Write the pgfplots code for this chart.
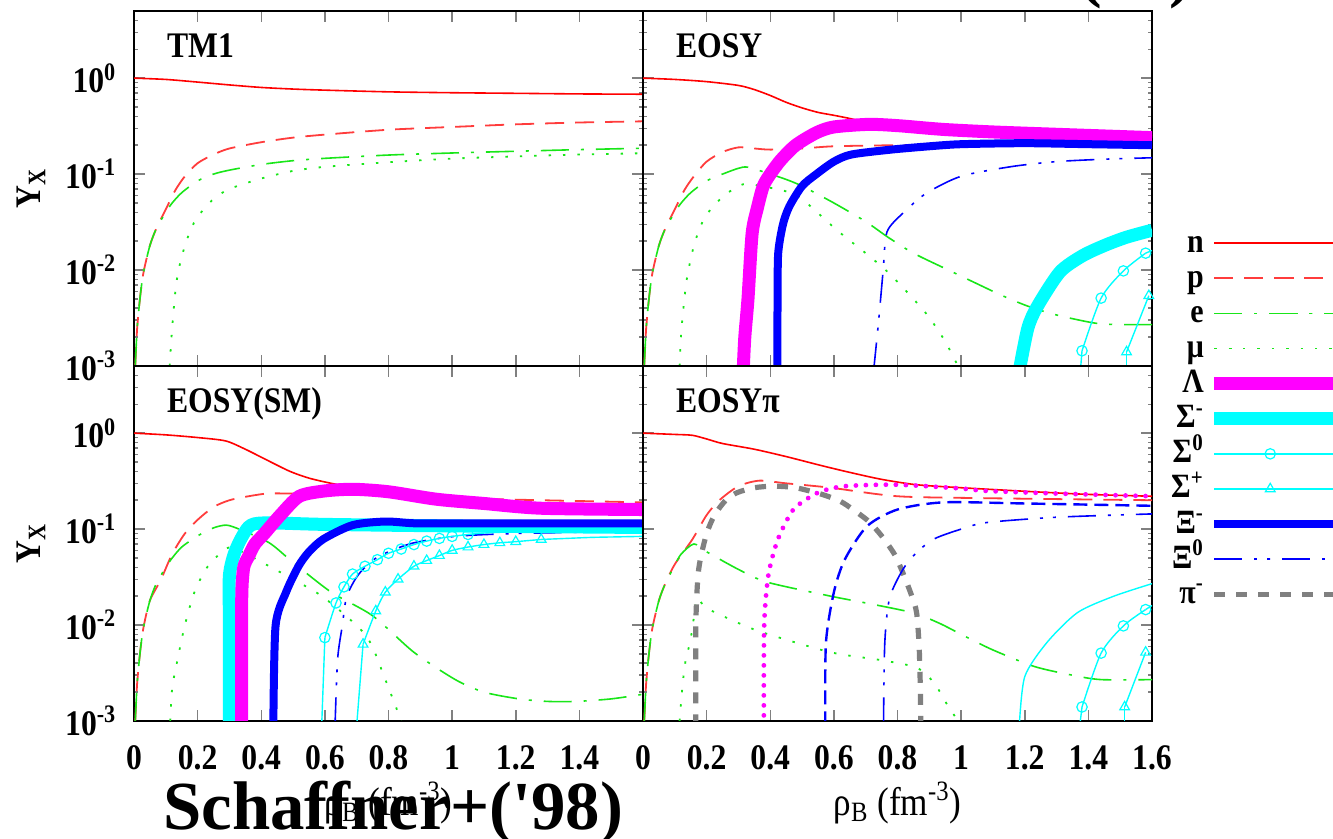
\documentclass[border=0pt]{standalone}
\usepackage{fontspec}
\setmainfont{Liberation Serif}
\newfontfamily\lab{Liberation Serif}[FakeStretch=0.88]
\usepackage{pgfplots}
\pgfplotsset{compat=1.18}

\definecolor{colN}{RGB}{255,0,0}
\definecolor{colP}{RGB}{255,60,60}
\definecolor{colG}{RGB}{25,230,25}
\definecolor{colMag}{RGB}{255,0,255}
\definecolor{colCy}{RGB}{0,255,255}
\definecolor{colBl}{RGB}{0,0,255}
\definecolor{colGr}{RGB}{128,128,128}

% line styles of the particle species
\tikzset{
  neutronS/.style={color=colN, line width=0.8pt, solid, smooth, tension=0.45},
  protonS/.style={color=colP, line width=0.9pt, dash pattern=on 9.5pt off 5.5pt, smooth, tension=0.45},
  elecS/.style={color=colG, line width=0.8pt, dash pattern=on 14pt off 6pt on 1.5pt off 6pt, smooth, tension=0.45},
  muonS/.style={color=colG, line width=0.9pt, dash pattern=on 1.2pt off 6pt, smooth, tension=0.45},
  lambdaS/.style={color=colMag, line width=6.5pt, line join=round, smooth, tension=0.45},
  lambdaDotS/.style={color=colMag, line width=2.4pt, line cap=round, dash pattern=on 0pt off 5pt, smooth, tension=0.45},
  sigmaMinusS/.style={color=colCy, line width=6.5pt, line join=round, smooth, tension=0.45},
  sigmaMinusThinS/.style={color=colCy, line width=0.7pt, smooth, tension=0.45},
  sigmaZeroS/.style={color=colCy, line width=0.7pt, mark=o, mark size=2.6pt, mark options={solid, line width=0.6pt}, smooth, tension=0.45},
  sigmaPlusS/.style={color=colCy, line width=0.7pt, mark=triangle, mark size=2.8pt, mark options={solid, line width=0.6pt}, smooth, tension=0.45},
  xiMinusS/.style={color=colBl, line width=4pt, line join=round, smooth, tension=0.45},
  xiMinusDashS/.style={color=colBl, line width=1.2pt, dash pattern=on 7pt off 3.5pt, smooth, tension=0.45},
  xiZeroS/.style={color=colBl, line width=0.8pt, dash pattern=on 14pt off 6pt on 1.5pt off 5pt on 1.5pt off 6pt, smooth, tension=0.45},
  pionS/.style={color=colGr, line width=2.6pt, dash pattern=on 5.5pt off 5.5pt, smooth, tension=0.45},
  ptitle/.style={anchor=base west, font=\fontsize{18}{18}\lab\bfseries},
}

\newcommand{\rhoB}{ρ\textsubscript{B} (fm\textsuperscript{-3})}

\begin{document}
\begin{tikzpicture}
\useasboundingbox (0,0) rectangle (666.5pt,419.5pt);

% ---------------- TM1 ----------------
\begin{axis}[
    at={(67pt,236.5pt)}, anchor=south west,
    scale only axis, width=254.5pt, height=177.5pt,
    xmin=0, xmax=1.6, ymode=log, ymin=1e-3, ymax=5.0119,
    axis line style={line width=0.8pt},
    xtick={0,0.2,0.4,0.6,0.8,1.0,1.2,1.4,1.6},
    ytick={1e-3,1e-2,1e-1,1},
    minor ytick={2e-3,3e-3,4e-3,5e-3,6e-3,7e-3,8e-3,9e-3,2e-2,3e-2,4e-2,5e-2,6e-2,7e-2,8e-2,9e-2,0.2,0.3,0.4,0.5,0.6,0.7,0.8,0.9,2,3,4,5},
    tick align=inside, tick pos=both,
    major tick length=5.5pt, minor tick length=2.2pt,
    every tick/.append style={line width=0.75pt},
    tick label style={font=\fontsize{18}{18}\lab\bfseries},
    yticklabel style={xshift=-5.3pt},
    xticklabels={},
    yticklabels={10\textsuperscript{-3},10\textsuperscript{-2},10\textsuperscript{-1},10\textsuperscript{0}},
    ylabel={Y\textsubscript{X}},
    ylabel style={at={(axis description cs:-0.2024,0.5)}, anchor=center, font=\fontsize{18}{18}\lab\bfseries},
]
\addplot[neutronS] coordinates {(0,1.0) (0.1,0.97) (0.2,0.91) (0.3,0.85) (0.4,0.8) (0.5,0.77) (0.6,0.75) (0.8,0.72) (1.0,0.705) (1.2,0.695) (1.4,0.685) (1.6,0.68)};
\addplot[protonS] coordinates {(0.004,0.001) (0.01,0.0025) (0.02,0.0055) (0.03,0.0095) (0.05,0.018) (0.07,0.027) (0.1,0.043) (0.13,0.068) (0.16,0.095) (0.2,0.13) (0.25,0.16) (0.3,0.185) (0.4,0.215) (0.5,0.24) (0.6,0.258) (0.8,0.29) (1.0,0.31) (1.2,0.33) (1.4,0.345) (1.6,0.355)};
\addplot[elecS] coordinates {(0.004,0.001) (0.01,0.0025) (0.02,0.0055) (0.03,0.0095) (0.05,0.018) (0.07,0.027) (0.1,0.04) (0.12,0.05) (0.15,0.064) (0.2,0.085) (0.25,0.1) (0.3,0.11) (0.4,0.126) (0.5,0.138) (0.6,0.146) (0.8,0.158) (1.0,0.166) (1.2,0.173) (1.4,0.18) (1.6,0.186)};
\addplot[muonS] coordinates {(0.112,0.001) (0.12,0.0025) (0.13,0.006) (0.14,0.01) (0.16,0.018) (0.18,0.027) (0.2,0.036) (0.25,0.055) (0.3,0.07) (0.4,0.09) (0.5,0.108) (0.6,0.119) (0.8,0.133) (1.0,0.145) (1.2,0.153) (1.4,0.16) (1.6,0.165)};
\node[ptitle] at (rel axis cs:0.051,0.868) {TM1};
\end{axis}

% ---------------- EOSY ----------------
\begin{axis}[
    at={(321.5pt,236.5pt)}, anchor=south west,
    scale only axis, width=254.5pt, height=177.5pt,
    xmin=0, xmax=1.6, ymode=log, ymin=1e-3, ymax=5.0119,
    axis line style={line width=0.8pt},
    xtick={0,0.2,0.4,0.6,0.8,1.0,1.2,1.4,1.6},
    ytick={1e-3,1e-2,1e-1,1},
    minor ytick={2e-3,3e-3,4e-3,5e-3,6e-3,7e-3,8e-3,9e-3,2e-2,3e-2,4e-2,5e-2,6e-2,7e-2,8e-2,9e-2,0.2,0.3,0.4,0.5,0.6,0.7,0.8,0.9,2,3,4,5},
    tick align=inside, tick pos=both,
    major tick length=5.5pt, minor tick length=2.2pt,
    every tick/.append style={line width=0.75pt},
    xticklabels={}, yticklabels={},
    legend style={at={(axis description cs:1.037,0.392)}, anchor=north west, draw=none, fill=none,
    inner sep=0pt, font=\fontsize{17}{17}\lab\bfseries, row sep=1.55pt, column sep=2pt,
    nodes={inner sep=0pt, text height=12.5pt, text depth=3.5pt}},
    legend cell align=right, legend plot pos=right,
    legend image code/.code={\draw[mark repeat=2, mark phase=2, #1] plot coordinates {(0pt,0pt) (28pt,0pt) (75pt,0pt)};},
]
\addlegendimage{neutronS}
\addlegendimage{protonS}
\addlegendimage{elecS}
\addlegendimage{muonS}
\addlegendimage{lambdaS}
\addlegendimage{sigmaMinusS}
\addlegendimage{sigmaZeroS}
\addlegendimage{sigmaPlusS}
\addlegendimage{xiMinusS}
\addlegendimage{xiZeroS}
\addlegendimage{pionS}
\legend{n,p,e,μ,Λ,Σ\textsuperscript{-},Σ\textsuperscript{0},Σ\textsuperscript{+},Ξ\textsuperscript{-},Ξ\textsuperscript{0},π\textsuperscript{-}}
\addplot[neutronS] coordinates {(0,1.0) (0.1,0.97) (0.2,0.92) (0.3,0.84) (0.35,0.76) (0.4,0.66) (0.45,0.56) (0.5,0.49) (0.55,0.44) (0.6,0.41) (0.65,0.38) (0.7,0.35) (0.8,0.32) (1.0,0.29) (1.2,0.27) (1.4,0.26) (1.6,0.25)};
\addplot[protonS] coordinates {(0.004,0.001) (0.01,0.0025) (0.02,0.0055) (0.03,0.0095) (0.05,0.018) (0.07,0.027) (0.1,0.043) (0.13,0.068) (0.16,0.095) (0.2,0.135) (0.25,0.17) (0.3,0.19) (0.35,0.185) (0.4,0.18) (0.5,0.185) (0.6,0.195) (0.8,0.2) (1.0,0.2) (1.2,0.2) (1.4,0.195) (1.6,0.19)};
\addplot[elecS] coordinates {(0.004,0.001) (0.01,0.0025) (0.02,0.0055) (0.03,0.0095) (0.05,0.018) (0.07,0.027) (0.1,0.04) (0.12,0.05) (0.15,0.064) (0.2,0.085) (0.25,0.1) (0.3,0.115) (0.33,0.118) (0.4,0.1) (0.45,0.088) (0.5,0.075) (0.6,0.05) (0.7,0.032) (0.77,0.022) (0.85,0.015) (0.96,0.01) (1.05,0.0072) (1.13,0.0054) (1.21,0.0042) (1.3,0.0034) (1.42,0.0028) (1.5,0.0027) (1.6,0.0027)};
\addplot[muonS] coordinates {(0.115,0.001) (0.12,0.0022) (0.13,0.005) (0.14,0.009) (0.16,0.018) (0.18,0.028) (0.2,0.038) (0.25,0.058) (0.3,0.075) (0.33,0.079) (0.4,0.072) (0.45,0.066) (0.5,0.055) (0.61,0.026) (0.7,0.015) (0.77,0.0095) (0.85,0.005) (0.9,0.0032) (0.95,0.0018) (0.99,0.001)};
\addplot[xiZeroS] coordinates {(0.725,0.0009) (0.74,0.0028) (0.755,0.01) (0.767,0.025) (0.82,0.04) (0.89,0.063) (1.0,0.095) (1.16,0.12) (1.3,0.135) (1.45,0.143) (1.6,0.148)};
\addplot[sigmaZeroS, mark=none] coordinates {(1.375,0.0009) (1.38,0.00144)};
\addplot[sigmaZeroS] coordinates {(1.38,0.00144) (1.44,0.0051) (1.51,0.0098) (1.58,0.015)};
\addplot[sigmaZeroS, mark=none] coordinates {(1.58,0.015) (1.6,0.016)};
\addplot[sigmaPlusS, mark=none] coordinates {(1.52,0.0009) (1.52,0.0014)};
\addplot[sigmaPlusS] coordinates {(1.52,0.0014) (1.59,0.0054)};
\addplot[sigmaMinusS] coordinates {(1.183,0.0009) (1.21,0.0025) (1.24,0.0042) (1.31,0.0095) (1.38,0.014) (1.45,0.018) (1.52,0.022) (1.6,0.026)};
\addplot[lambdaS] coordinates {(0.315,0.0009) (0.32,0.002) (0.33,0.005) (0.343,0.024) (0.36,0.045) (0.378,0.075) (0.4,0.1) (0.433,0.14) (0.48,0.2) (0.545,0.27) (0.6,0.31) (0.71,0.33) (0.8,0.32) (0.9,0.3) (0.96,0.29) (1.1,0.275) (1.3,0.26) (1.6,0.24)};
\addplot[xiMinusS] coordinates {(0.422,0.0009) (0.423,0.005) (0.425,0.015) (0.44,0.03) (0.46,0.046) (0.5,0.075) (0.545,0.1) (0.6,0.135) (0.655,0.16) (0.78,0.18) (0.9,0.195) (1.0,0.205) (1.2,0.21) (1.4,0.205) (1.6,0.2)};
\node[ptitle] at (rel axis cs:0.051,0.868) {EOSY};
\end{axis}

% ---------------- EOSY(SM) ----------------
\begin{axis}[
    at={(67pt,59pt)}, anchor=south west,
    scale only axis, width=254.5pt, height=177.5pt,
    xmin=0, xmax=1.6, ymode=log, ymin=1e-3, ymax=5.0119,
    axis line style={line width=0.8pt},
    xtick={0,0.2,0.4,0.6,0.8,1.0,1.2,1.4,1.6},
    ytick={1e-3,1e-2,1e-1,1},
    minor ytick={2e-3,3e-3,4e-3,5e-3,6e-3,7e-3,8e-3,9e-3,2e-2,3e-2,4e-2,5e-2,6e-2,7e-2,8e-2,9e-2,0.2,0.3,0.4,0.5,0.6,0.7,0.8,0.9,2,3,4,5},
    tick align=inside, tick pos=both,
    major tick length=5.5pt, minor tick length=2.2pt,
    every tick/.append style={line width=0.75pt},
    tick label style={font=\fontsize{18}{18}\lab\bfseries},
    xticklabel style={yshift=-8.8pt},
    yticklabel style={xshift=-5.3pt},
    xticklabels={0,0.2,0.4,0.6,0.8,1,1.2,1.4,{}},
    yticklabels={10\textsuperscript{-3},10\textsuperscript{-2},10\textsuperscript{-1},10\textsuperscript{0}},
    ylabel={Y\textsubscript{X}},
    ylabel style={at={(axis description cs:-0.2024,0.5)}, anchor=center, font=\fontsize{18}{18}\lab\bfseries},
    xlabel={\rhoB},
    xlabel style={at={(axis description cs:0.5,-0.231)}, anchor=center, font=\fontsize{20}{20}\lab},
]
\addplot[neutronS] coordinates {(0,1.0) (0.1,0.96) (0.2,0.9) (0.288,0.83) (0.35,0.68) (0.42,0.52) (0.49,0.4) (0.55,0.34) (0.62,0.3) (0.7,0.27) (0.8,0.25) (1.0,0.21) (1.2,0.19) (1.4,0.18) (1.6,0.175)};
\addplot[protonS] coordinates {(0.004,0.001) (0.01,0.0025) (0.02,0.0055) (0.03,0.0095) (0.05,0.018) (0.085,0.03) (0.12,0.055) (0.16,0.09) (0.2,0.125) (0.25,0.17) (0.3,0.2) (0.36,0.22) (0.42,0.235) (0.49,0.235) (0.6,0.235) (0.8,0.225) (1.0,0.21) (1.6,0.19)};
\addplot[elecS] coordinates {(0.004,0.001) (0.01,0.0025) (0.02,0.0055) (0.03,0.0095) (0.05,0.018) (0.07,0.027) (0.1,0.04) (0.12,0.05) (0.15,0.065) (0.2,0.085) (0.25,0.103) (0.29,0.11) (0.33,0.1) (0.425,0.072) (0.5,0.045) (0.62,0.022) (0.75,0.0125) (0.88,0.0052) (1.01,0.0027) (1.1,0.002) (1.21,0.0017) (1.3,0.0016) (1.39,0.0016) (1.5,0.0017) (1.6,0.0019)};
\addplot[muonS] coordinates {(0.114,0.001) (0.12,0.0022) (0.137,0.0044) (0.16,0.01) (0.19,0.022) (0.23,0.04) (0.29,0.063) (0.33,0.06) (0.425,0.041) (0.5,0.03) (0.6,0.019) (0.73,0.0077) (0.79,0.0027) (0.84,0.001)};
\addplot[xiZeroS] coordinates {(0.632,0.0009) (0.64,0.0044) (0.655,0.01) (0.667,0.019) (0.69,0.028) (0.713,0.036) (0.753,0.048) (0.8,0.058) (0.88,0.072) (1.01,0.084) (1.2,0.09) (1.6,0.095)};
\addplot[sigmaZeroS, mark=none] coordinates {(0.59,0.0009) (0.6,0.0074)};
\addplot[sigmaZeroS] coordinates {(0.6,0.0074) (0.635,0.017) (0.66,0.025) (0.687,0.034) (0.726,0.041) (0.765,0.048) (0.8,0.056) (0.84,0.062) (0.88,0.069) (0.92,0.075) (0.96,0.08) (1.0,0.084) (1.05,0.088)};
\addplot[sigmaZeroS, mark=none] coordinates {(1.05,0.088) (1.1,0.091) (1.2,0.094) (1.3,0.096) (1.4,0.097) (1.5,0.098) (1.6,0.098)};
\addplot[sigmaPlusS, mark=none] coordinates {(0.70,0.0009) (0.72,0.0063)};
\addplot[sigmaPlusS] coordinates {(0.72,0.0063) (0.76,0.014) (0.79,0.022) (0.83,0.03) (0.88,0.041) (0.92,0.047) (0.96,0.053) (1.0,0.06) (1.05,0.065) (1.1,0.069) (1.15,0.072) (1.2,0.074) (1.28,0.078)};
\addplot[sigmaPlusS, mark=none] coordinates {(1.28,0.078) (1.36,0.08) (1.44,0.082) (1.52,0.083) (1.6,0.084)};
\addplot[sigmaMinusS] coordinates {(0.3,0.0009) (0.3,0.01) (0.3,0.033) (0.32,0.061) (0.36,0.105) (0.41,0.116) (0.6,0.112) (1.0,0.108) (1.6,0.104)};
\addplot[lambdaS] coordinates {(0.338,0.0009) (0.338,0.005) (0.339,0.022) (0.345,0.04) (0.36,0.052) (0.38,0.07) (0.41,0.09) (0.46,0.14) (0.52,0.22) (0.6,0.25) (0.69,0.26) (0.8,0.245) (0.95,0.205) (1.1,0.185) (1.28,0.165) (1.6,0.16)};
\addplot[xiMinusS] coordinates {(0.438,0.0009) (0.445,0.0098) (0.478,0.022) (0.517,0.041) (0.55,0.058) (0.596,0.079) (0.687,0.11) (0.79,0.12) (0.88,0.115) (1.0,0.115) (1.6,0.115)};
\node[ptitle] at (rel axis cs:0.051,0.868) {EOSY(SM)};
\end{axis}

% ---------------- EOSY pi ----------------
\begin{axis}[
    at={(321.5pt,59pt)}, anchor=south west,
    scale only axis, width=254.5pt, height=177.5pt,
    xmin=0, xmax=1.6, ymode=log, ymin=1e-3, ymax=5.0119,
    axis line style={line width=0.8pt},
    xtick={0,0.2,0.4,0.6,0.8,1.0,1.2,1.4,1.6},
    ytick={1e-3,1e-2,1e-1,1},
    minor ytick={2e-3,3e-3,4e-3,5e-3,6e-3,7e-3,8e-3,9e-3,2e-2,3e-2,4e-2,5e-2,6e-2,7e-2,8e-2,9e-2,0.2,0.3,0.4,0.5,0.6,0.7,0.8,0.9,2,3,4,5},
    tick align=inside, tick pos=both,
    major tick length=5.5pt, minor tick length=2.2pt,
    every tick/.append style={line width=0.75pt},
    tick label style={font=\fontsize{18}{18}\lab\bfseries},
    xticklabel style={yshift=-8.8pt},
    xticklabels={0,0.2,0.4,0.6,0.8,1,1.2,1.4,1.6},
    yticklabels={},
    xlabel={\rhoB},
    xlabel style={at={(axis description cs:0.5,-0.231)}, anchor=center, font=\fontsize{20}{20}\lab},
]
\addplot[neutronS] coordinates {(0,1.0) (0.1,0.97) (0.155,0.95) (0.2,0.87) (0.25,0.78) (0.35,0.68) (0.45,0.57) (0.56,0.46) (0.65,0.39) (0.75,0.33) (0.86,0.29) (1.0,0.27) (1.23,0.245) (1.4,0.23) (1.6,0.22)};
\addplot[protonS] coordinates {(0.004,0.001) (0.01,0.0025) (0.02,0.0055) (0.03,0.0095) (0.05,0.018) (0.07,0.027) (0.1,0.043) (0.155,0.078) (0.2,0.14) (0.24,0.2) (0.3,0.28) (0.366,0.32) (0.45,0.3) (0.59,0.27) (0.8,0.22) (1.08,0.21) (1.6,0.2)};
\addplot[elecS] coordinates {(0.004,0.001) (0.01,0.0025) (0.02,0.0055) (0.03,0.0095) (0.05,0.018) (0.07,0.027) (0.1,0.042) (0.12,0.055) (0.16,0.07) (0.2,0.058) (0.3,0.038) (0.39,0.028) (0.59,0.02) (0.7,0.017) (0.845,0.0135) (0.93,0.0105) (1.01,0.0077) (1.1,0.0055) (1.23,0.0037) (1.35,0.003) (1.44,0.0027) (1.6,0.0027)};
\addplot[muonS] coordinates {(0.115,0.001) (0.125,0.0025) (0.135,0.0045) (0.148,0.0066) (0.16,0.012) (0.17,0.019) (0.2,0.015) (0.3,0.0105) (0.38,0.0083) (0.59,0.0052) (0.75,0.0043) (0.86,0.0036) (0.915,0.0025) (0.95,0.0016) (0.99,0.001)};
\addplot[pionS] coordinates {(0.166,0.0009) (0.166,0.0098) (0.172,0.03) (0.18,0.048) (0.2,0.09) (0.225,0.14) (0.26,0.2) (0.296,0.24) (0.35,0.27) (0.41,0.28) (0.48,0.27) (0.563,0.23) (0.62,0.195) (0.66,0.16) (0.71,0.12) (0.75,0.085) (0.79,0.055) (0.817,0.035) (0.845,0.02) (0.86,0.0135) (0.868,0.006) (0.872,0.002) (0.873,0.0009)};
\addplot[lambdaDotS] coordinates {(0.38,0.0009) (0.381,0.01) (0.394,0.033) (0.42,0.072) (0.45,0.12) (0.48,0.17) (0.55,0.24) (0.634,0.28) (0.8,0.29) (1.0,0.265) (1.08,0.25) (1.3,0.235) (1.6,0.22)};
\addplot[xiMinusDashS] coordinates {(0.573,0.0009) (0.575,0.0065) (0.6,0.022) (0.634,0.048) (0.704,0.107) (0.8,0.16) (0.944,0.19) (1.2,0.185) (1.6,0.175)};
\addplot[xiZeroS] coordinates {(0.756,0.0009) (0.76,0.0065) (0.775,0.019) (0.817,0.038) (0.86,0.057) (0.915,0.079) (1.0,0.1) (1.08,0.117) (1.3,0.133) (1.6,0.144)};
\addplot[sigmaMinusThinS] coordinates {(1.183,0.0009) (1.2,0.0029) (1.27,0.0066) (1.366,0.0135) (1.48,0.02) (1.6,0.027)};
\addplot[sigmaZeroS, mark=none] coordinates {(1.373,0.0009) (1.38,0.0014)};
\addplot[sigmaZeroS] coordinates {(1.38,0.0014) (1.44,0.0051) (1.51,0.0098) (1.58,0.0145)};
\addplot[sigmaZeroS, mark=none] coordinates {(1.58,0.0145) (1.6,0.016)};
\addplot[sigmaPlusS, mark=none] coordinates {(1.514,0.0009) (1.514,0.0014)};
\addplot[sigmaPlusS] coordinates {(1.514,0.0014) (1.58,0.0052)};
\node[ptitle] at (rel axis cs:0.051,0.868) {EOSYπ};
\end{axis}

% slide captions
\node[anchor=base west, font=\fontsize{34.4}{34.4}\selectfont\bfseries, inner sep=0pt] at (81.5pt,4.5pt) {Schaffner+(\textquotesingle 98)};
\node[anchor=base east, font=\fontsize{34}{34}\selectfont\bfseries, inner sep=0pt] at (596.5pt,422pt) {(08)};
\end{tikzpicture}
\end{document}
